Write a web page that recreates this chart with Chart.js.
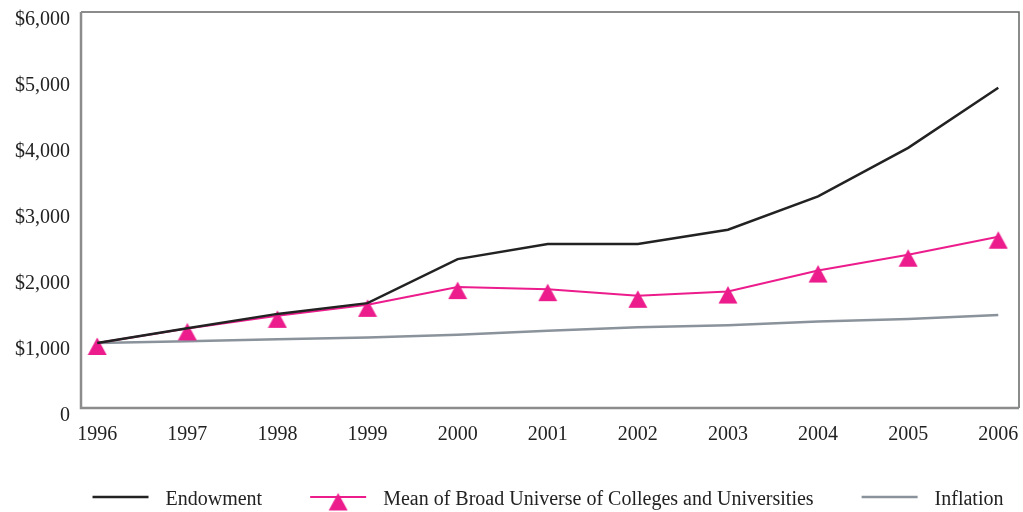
<!DOCTYPE html>
<html>
<head>
<meta charset="utf-8">
<script src="https://cdn.jsdelivr.net/npm/chart.js@4/dist/chart.umd.min.js"></script>
<style>
  html, body { margin: 0; padding: 0; background: #fff; overflow: hidden; }
  #wrap { width: 1023px; height: 512px; }
  canvas { display: block; }
</style>
</head>
<body>
<div id="wrap"><canvas id="growthChart" width="1023" height="512"></canvas></div>
<script>
// values
var years = [1996, 1997, 1998, 1999, 2000, 2001, 2002, 2003, 2004, 2005, 2006];
var endowment = [985, 1209, 1426, 1589, 2256, 2484, 2484, 2701, 3206, 3941, 4851];
var broadMean = [985, 1206, 1396, 1563, 1832, 1801, 1700, 1765, 2083, 2322, 2595];
var inflation = [985, 1010, 1040, 1070, 1110, 1170, 1225, 1255, 1310, 1350, 1410];
var yTicks = [0, 1000, 2000, 3000, 4000, 5000, 6000];

var FONT = '"Liberation Serif", "DejaVu Serif", serif';
var PINK = '#ec1c8c';
var BLACK = '#222222';
var GREY = '#8a939b';

/**
 * Triangle marker, drawn a bit below the point like the source figure
 */
function makeTriangle(){
    var c = document.createElement('canvas');
    c.width = 20;
    c.height = 26;
    var g = c.getContext('2d');
    g.fillStyle = PINK;
    g.beginPath();
    g.moveTo(10, 7.5);
    g.lineTo(19.5, 25);
    g.lineTo(0.5, 25);
    g.closePath();
    g.fill();
    return c;
}
var triangle = makeTriangle();

function pairs(values){
    return values.map((v, i) => ({ x: years[i], y: v }));
}

// box around the plot area
var frame = {
    id: 'frame',
    beforeDatasetsDraw(chart){
        var a = chart.chartArea, ctx = chart.ctx;
        ctx.save();
        ctx.strokeStyle = '#666';
        ctx.lineWidth = 1.5;
        ctx.beginPath();
        ctx.moveTo(a.left, a.top);
        ctx.lineTo(a.right, a.top);
        ctx.lineTo(a.right, a.bottom);
        ctx.stroke();
        ctx.strokeStyle = '#8c8c8c';
        ctx.lineWidth = 2.5;
        ctx.beginPath();
        ctx.moveTo(a.left, a.top);
        ctx.lineTo(a.left, a.bottom);
        ctx.lineTo(a.right, a.bottom);
        ctx.stroke();
        ctx.restore();
    }
};

// legend along the bottom: short line sample, then label
var bottomLegend = {
    id: 'bottomLegend',
    afterDraw(chart){
        var ctx = chart.ctx;
        var sample = 56, gapText = 17, gapItem = 48, y = 500;
        ctx.save();
        ctx.font = '20px ' + FONT;
        var sets = chart.data.datasets;
        var widths = sets.map(ds => sample + gapText + ctx.measureText(ds.label).width);
        var total = widths.reduce((t, w) => t + w, 0) + gapItem * (sets.length - 1);
        var x = 548 - total / 2;
        sets.forEach((ds, i) => {
            var ly = y - 3;
            ctx.strokeStyle = ds.borderColor;
            ctx.lineWidth = ds.borderWidth;
            ctx.beginPath();
            ctx.moveTo(x, ly);
            ctx.lineTo(x + sample, ly);
            ctx.stroke();
            if(ds.pointStyle === triangle){
                ctx.drawImage(triangle, x + sample / 2 - 10, ly - 4 - 7.5);
            }
            ctx.fillStyle = '#222';
            ctx.textBaseline = 'middle';
            ctx.textAlign = 'left';
            ctx.fillText(ds.label, x + sample + gapText, y);
            x += widths[i] + gapItem;
        });
        ctx.restore();
    }
};

new Chart(document.getElementById('growthChart').getContext('2d'), {
    type: 'line',
    data: {
        datasets: [{
            label: 'Endowment',
            data: pairs(endowment),
            borderColor: BLACK,
            borderWidth: 2.5,
            pointRadius: 0
        }, {
            label: 'Mean of Broad Universe of Colleges and Universities',
            data: pairs(broadMean),
            borderColor: PINK,
            backgroundColor: PINK,
            borderWidth: 2,
            pointStyle: triangle,
            // image markers keep their own size; a small radius keeps the layout from padding for them
            pointRadius: 0.5,
            pointBorderWidth: 0
        }, {
            label: 'Inflation',
            data: pairs(inflation),
            borderColor: GREY,
            borderWidth: 2.5,
            pointRadius: 0
        }]
    },
    options: {
        responsive: false,
        animation: false,
        layout: { padding: { top: 12, right: 4, left: 0, bottom: 0 } },
        plugins: {
            tooltip: { enabled: false },
            legend: { display: false }
        },
        scales: {
            x: {
                type: 'linear',
                min: 1995.82,
                max: 2006.23,
                afterBuildTicks(axis){
                    axis.ticks = years.map(v => ({ value: v }));
                },
                afterFit(axis){
                    axis.height = 104;
                    axis.paddingLeft = 0;
                    axis.paddingRight = 0;
                },
                grid: { display: false, drawTicks: false },
                border: { display: false },
                ticks: {
                    color: '#222',
                    padding: 15,
                    maxRotation: 0,
                    font: { family: FONT, size: 20 },
                    callback: v => String(v)
                }
            },
            y: {
                min: 0,
                max: 6000,
                afterBuildTicks(axis){
                    axis.ticks = yTicks.map(v => ({ value: v }));
                },
                afterFit(axis){
                    axis.width = 81;
                    axis.paddingTop = 0;
                    axis.paddingBottom = 0;
                },
                grid: { display: false, drawTicks: false },
                border: { display: false },
                ticks: {
                    color: '#222',
                    padding: 11,
                    labelOffset: 8,
                    font: { family: FONT, size: 20 },
                    callback: v => v === 0 ? '0' : '$' + v.toLocaleString('en-US')
                }
            }
        }
    },
    plugins: [frame, bottomLegend]
});
</script>
</body>
</html>
